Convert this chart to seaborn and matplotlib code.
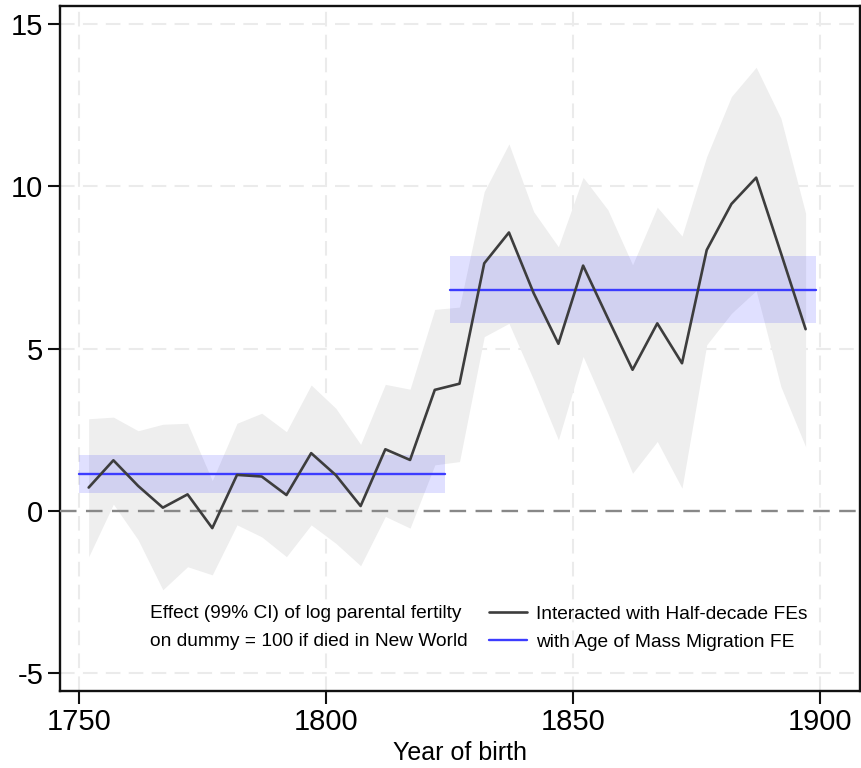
import matplotlib
matplotlib.use("Agg")
import matplotlib.pyplot as plt
from matplotlib.lines import Line2D
import numpy as np
import pandas as pd
import seaborn as sns

# Half-decade birth cohorts (midpoints) and the interacted estimates with 99% CI
cohort_year = [1752, 1757, 1762, 1767, 1772, 1777, 1782, 1787, 1792, 1797,
               1802, 1807, 1812, 1817, 1822, 1827, 1832, 1837, 1842, 1847,
               1852, 1857, 1862, 1867, 1872, 1877, 1882, 1887, 1892, 1897]
coef = [0.72, 1.56, 0.77, 0.10, 0.51, -0.53, 1.11, 1.06, 0.49, 1.78,
        1.10, 0.15, 1.90, 1.57, 3.73, 3.92, 7.63, 8.58, 6.71, 5.15,
        7.56, 5.94, 4.35, 5.78, 4.55, 8.04, 9.46, 10.27, 7.95, 5.60]
ci_high = [2.84, 2.89, 2.47, 2.67, 2.70, 0.93, 2.70, 3.01, 2.44, 3.88,
           3.16, 2.05, 3.90, 3.75, 6.21, 6.28, 9.84, 11.31, 9.22, 8.14,
           10.28, 9.28, 7.58, 9.36, 8.47, 10.92, 12.77, 13.67, 12.10, 9.17]
ci_low = [-1.41, 0.21, -0.89, -2.43, -1.72, -1.97, -0.43, -0.80, -1.41, -0.43,
          -1.00, -1.69, -0.17, -0.53, 1.42, 1.52, 5.37, 5.78, 4.04, 2.19,
          4.76, 3.01, 1.16, 2.14, 0.70, 5.12, 6.09, 6.79, 3.83, 1.98]

# Pooled estimates: before / during the Age of Mass Migration
period_start = [1750, 1825]
period_end = [1824, 1899]
period_coef = [1.14, 6.81]
period_low = [0.55, 5.78]
period_high = [1.73, 7.86]

x_ticks = [1750, 1800, 1850, 1900]
y_ticks = [-5, 0, 5, 10, 15]

left_legend_text = ["Effect (99% CI) of log parental fertilty",
                    "on dummy = 100 if died in New World"]
series_labels = ["Interacted with Half-decade FEs",
                 "with Age of Mass Migration FE"]

line_color = "#3d3d3d"
blue = "#3c3cff"

sns.set_style("white")
plt.rcParams["font.family"] = ["Liberation Sans", "DejaVu Sans"]
plt.rcParams["text.color"] = "black"
plt.rcParams["xtick.color"] = "black"
plt.rcParams["ytick.color"] = "black"
plt.rcParams["axes.labelcolor"] = "black"

fig = plt.figure(figsize=(8.62, 7.68), dpi=100)
ax = fig.add_axes([60 / 862, 1 - 691 / 768, 800 / 862, 685 / 768])

df = pd.DataFrame({"year": cohort_year, "coef": coef,
                   "lo": ci_low, "hi": ci_high})

# grid
for xv in x_ticks:
    ax.axvline(xv, color="#ebebeb", lw=1.5, ls=(0, (7, 4)), zorder=0)
for yv in y_ticks:
    if yv != 0:
        ax.axhline(yv, color="#ebebeb", lw=1.5, ls=(0, (7, 4)), zorder=0)

# confidence band of the interacted estimates
ax.fill_between(df["year"], df["lo"], df["hi"], color="#eeeeee", lw=0, zorder=1)

# pooled estimate boxes and lines
for s, e, c, lo, hi in zip(period_start, period_end, period_coef,
                           period_low, period_high):
    ax.fill_between([s, e], [lo, lo], [hi, hi], color="#0000ff", alpha=0.12,
                    lw=0, zorder=2)
    seg = pd.DataFrame({"year": [s, e], "coef": [c, c]})
    sns.lineplot(data=seg, x="year", y="coef", ax=ax, color=blue, lw=1.7,
                 zorder=4)

# zero reference line
ax.axhline(0, color="#888888", lw=1.7, ls=(0, (7, 4)), zorder=3)

sns.lineplot(data=df, x="year", y="coef", ax=ax, color=line_color, lw=1.9,
             zorder=5)

ax.set_xlim(1746.2, 1908.0)
ax.set_ylim(-5.55, 15.56)
ax.set_xticks(x_ticks)
ax.set_yticks(y_ticks)
ax.set_xticklabels([str(v) for v in x_ticks])
ax.set_yticklabels([str(v) for v in y_ticks])
ax.tick_params(axis="both", which="major", labelsize=21, length=9, width=1.5,
               color="#111111", direction="out", pad=3, left=True, bottom=True)
ax.set_xlabel("Year of birth", fontsize=18, labelpad=4)
ax.set_ylabel("")
for sp in ax.spines.values():
    sp.set_visible(True)
    sp.set_color("#111111")
    sp.set_linewidth(1.7)

# legend: descriptive text on the left, series keys on the right
for i, t in enumerate(left_legend_text):
    fig.text(150 / 862, 1 - (613 + 28 * i) / 768, t, fontsize=13.8,
             ha="left", va="center")
handles = [Line2D([], [], color=line_color, lw=1.9),
           Line2D([], [], color=blue, lw=1.7)]
ax.legend(handles, series_labels, loc="center left",
          bbox_to_anchor=(489 / 862, 1 - 628 / 768),
          bbox_transform=fig.transFigure, frameon=False, fontsize=13.8,
          handlelength=2.0, handletextpad=0.45, labelspacing=0.55,
          borderpad=0, borderaxespad=0)

fig.savefig("out.png", dpi=100)
